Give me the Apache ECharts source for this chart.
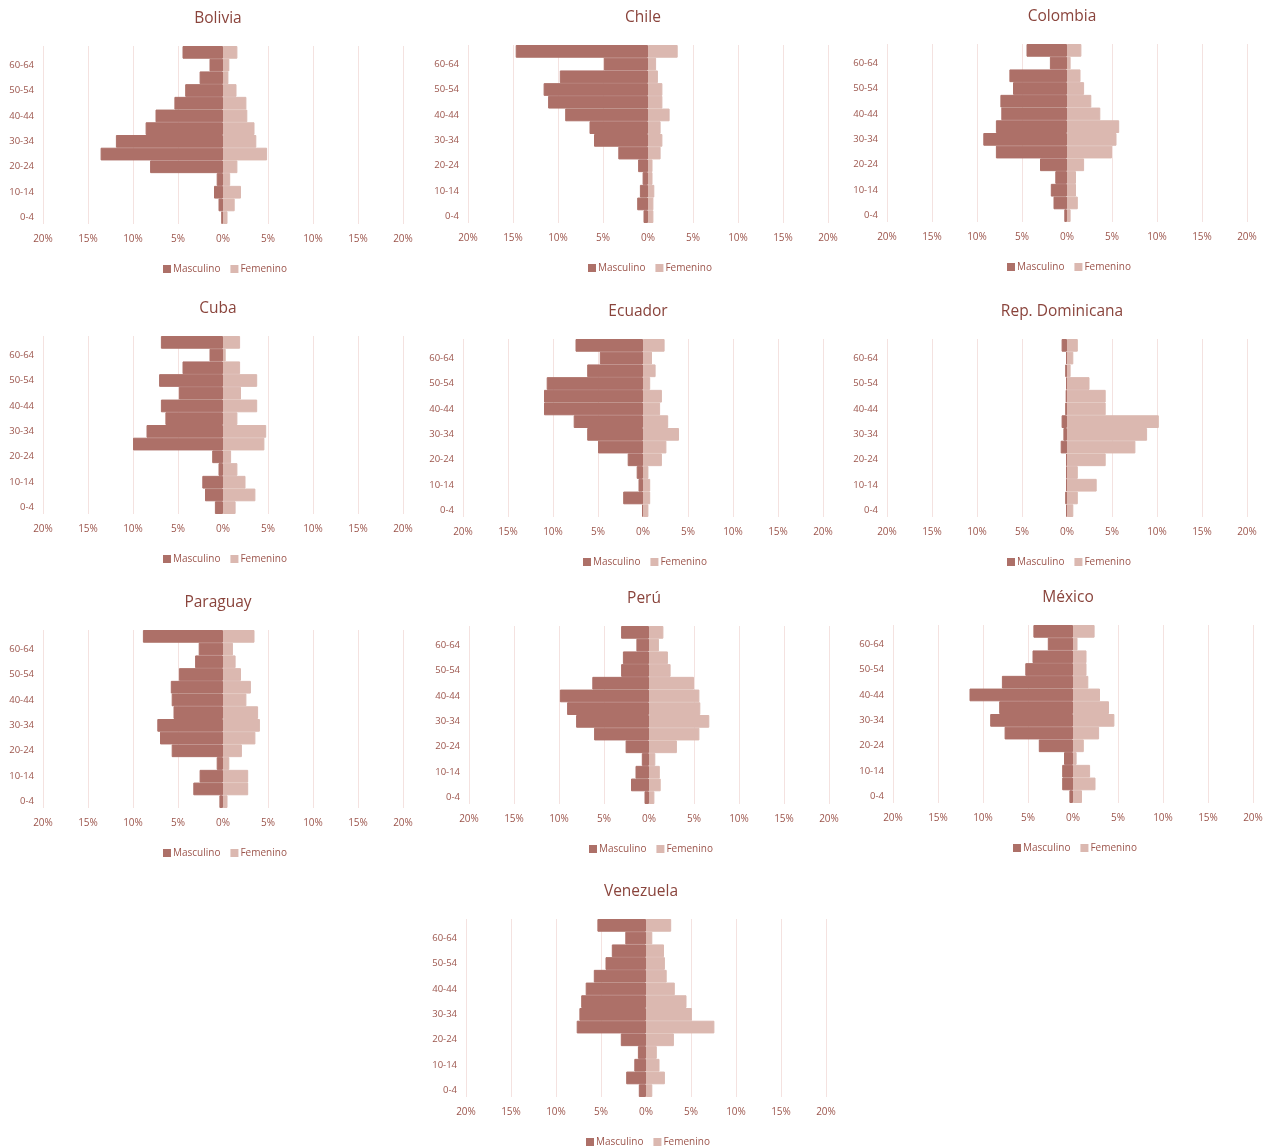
<!DOCTYPE html>
<html>
<head>
<meta charset="utf-8">
<script src="https://cdn.jsdelivr.net/npm/echarts@6/dist/echarts.min.js"></script>
<style>
  html, body { margin: 0; padding: 0; background: #fff; }
  #chart-container { width: 1272px; height: 1148px; }
</style>
</head>
<body>
<div id="chart-container"></div>
<script>
// grupos de edad (de abajo hacia arriba)
const edades = ['0-4', '5-9', '10-14', '15-19', '20-24', '25-29', '30-34', '35-39',
  '40-44', '45-49', '50-54', '55-59', '60-64', '65+'];

const paises = ['Bolivia', 'Chile', 'Colombia', 'Cuba', 'Ecuador', 'Rep. Dominicana',
  'Paraguay', 'Perú', 'México', 'Venezuela'];

// porcentajes por grupo de edad
const boliviaMasc = [0.2, 0.5, 1.0, 0.7, 8.1, 13.6, 11.9, 8.6, 7.5, 5.4, 4.2, 2.6, 1.5, 4.5];
const boliviaFem = [0.5, 1.3, 2.0, 0.8, 1.6, 4.9, 3.7, 3.5, 2.7, 2.6, 1.5, 0.6, 0.7, 1.6];
const chileMasc = [0.5, 1.2, 0.9, 0.6, 1.1, 3.3, 6.0, 6.5, 9.2, 11.1, 11.6, 9.8, 4.9, 14.7];
const chileFem = [0.6, 0.6, 0.7, 0.5, 0.5, 1.4, 1.6, 1.4, 2.4, 1.6, 1.6, 1.1, 0.9, 3.3];
const colombiaMasc = [0.3, 1.5, 1.8, 1.3, 3.0, 7.9, 9.3, 7.9, 7.3, 7.4, 6.0, 6.4, 1.9, 4.5];
const colombiaFem = [0.4, 1.2, 1.0, 1.0, 1.9, 5.0, 5.5, 5.8, 3.7, 2.7, 1.9, 1.5, 0.4, 1.6];
const cubaMasc = [0.9, 2.0, 2.3, 0.5, 1.2, 10.0, 8.5, 6.4, 6.9, 4.9, 7.1, 4.5, 1.5, 6.9];
const cubaFem = [1.4, 3.6, 2.5, 1.6, 0.9, 4.6, 4.8, 1.6, 3.8, 2.0, 3.8, 1.9, 0.3, 1.9];
const ecuadorMasc = [0.1, 2.2, 0.5, 0.7, 1.7, 5.0, 6.2, 7.7, 11.0, 11.0, 10.7, 6.2, 4.8, 7.5];
const ecuadorFem = [0.6, 0.8, 0.8, 0.6, 2.1, 2.6, 4.0, 2.8, 1.9, 2.1, 0.8, 1.4, 1.0, 2.4];
const repDomMasc = [0.1, 0.2, 0.1, 0.1, 0.1, 0.7, 0.4, 0.6, 0.2, 0.15, 0.1, 0.2, 0.1, 0.6];
const repDomFem = [0.7, 1.2, 3.3, 1.2, 4.3, 7.6, 8.9, 10.2, 4.3, 4.3, 2.5, 0.4, 0.7, 1.2];
const paraguayMasc = [0.4, 3.3, 2.6, 0.7, 5.7, 7.0, 7.3, 5.5, 5.7, 5.8, 4.9, 3.1, 2.7, 8.9];
const paraguayFem = [0.5, 2.8, 2.8, 0.7, 2.1, 3.6, 4.1, 3.9, 2.6, 3.1, 2.0, 1.4, 1.1, 3.5];
const peruMasc = [0.5, 2.0, 1.5, 0.8, 2.6, 6.1, 8.1, 9.1, 9.9, 6.3, 3.1, 2.9, 1.4, 3.1];
const peruFem = [0.6, 1.3, 1.2, 0.7, 3.1, 5.6, 6.7, 5.7, 5.6, 5.0, 2.4, 2.1, 1.1, 1.6];
const mexicoMasc = [0.4, 1.2, 1.2, 1.0, 3.8, 7.6, 9.2, 8.2, 11.5, 7.9, 5.3, 4.5, 2.8, 4.4];
const mexicoFem = [1.0, 2.5, 1.9, 0.4, 1.2, 2.9, 4.6, 4.0, 3.0, 1.7, 1.5, 1.5, 0.5, 2.4];
const venezuelaMasc = [0.8, 2.2, 1.3, 0.9, 2.8, 7.7, 7.4, 7.2, 6.7, 5.8, 4.5, 3.8, 2.3, 5.4];
const venezuelaFem = [0.7, 2.1, 1.5, 1.2, 3.1, 7.6, 5.1, 4.5, 3.2, 2.3, 2.1, 2.0, 0.7, 2.8];

const masculino = [boliviaMasc, chileMasc, colombiaMasc, cubaMasc, ecuadorMasc,
  repDomMasc, paraguayMasc, peruMasc, mexicoMasc, venezuelaMasc];
const femenino = [boliviaFem, chileFem, colombiaFem, cubaFem, ecuadorFem,
  repDomFem, paraguayFem, peruFem, mexicoFem, venezuelaFem];

// posición de cada panel: x del 0% y borde superior de las barras
const paneles = [
  { cero: 223, top: 46 }, { cero: 648, top: 45 }, { cero: 1067, top: 44 },
  { cero: 223, top: 336 }, { cero: 643, top: 339 }, { cero: 1067, top: 339 },
  { cero: 223, top: 630 }, { cero: 649, top: 626 }, { cero: 1073, top: 625 },
  { cero: 646, top: 919 }
];

const colorTexto = '#9c554c';
const colorMasc = '#ad7068';
const colorFem = '#dbb8b0';
const fuente = 'Open Sans';
const altoGrid = 178;
const mitad = 180;

const chart = echarts.init(document.getElementById('chart-container'));

const option = {
  animation: false,
  title: [],
  legend: [],
  grid: [],
  xAxis: [],
  yAxis: [],
  series: []
};

paneles.forEach((p, i) => {
  option.title.push({
    text: paises[i],
    left: p.cero - 10,
    top: p.top - 40,
    textAlign: 'center',
    textStyle: { fontFamily: fuente, fontSize: 15.5, fontWeight: 500, color: '#8a443c' }
  });
  option.legend.push({
    data: ['Masculino', 'Femenino'],
    left: p.cero - 65,
    top: p.top + altoGrid + 35,
    itemWidth: 6,
    itemHeight: 6,
    itemGap: 10,
    icon: 'rect',
    selectedMode: false,
    textStyle: { fontFamily: fuente, fontSize: 10, color: colorTexto, padding: [0, 0, 0, -2] }
  });
  option.grid.push({
    left: p.cero - mitad,
    top: p.top,
    width: mitad * 2,
    height: altoGrid,
    containLabel: false
  });
  option.xAxis.push({
    type: 'value',
    gridIndex: i,
    min: -20,
    max: 20,
    interval: 5,
    axisLine: { show: false },
    axisTick: { show: false },
    axisLabel: {
      margin: 10,
      fontFamily: fuente,
      fontSize: 10,
      color: colorTexto,
      formatter: v => Math.abs(v) + '%'
    },
    splitLine: { lineStyle: { color: '#f4e2e0', width: 1 } }
  });
  option.yAxis.push({
    type: 'category',
    gridIndex: i,
    data: edades,
    axisLine: { show: false, onZero: false },
    axisTick: { show: false },
    axisLabel: {
      interval: 1,
      margin: 9,
      fontFamily: fuente,
      fontSize: 9.5,
      color: colorTexto
    }
  });
  option.series.push({
    name: 'Masculino',
    type: 'bar',
    xAxisIndex: i,
    yAxisIndex: i,
    barCategoryGap: '0%',
    barGap: '-100%',
    itemStyle: { color: colorMasc, borderColor: colorMasc, borderWidth: 1 },
    data: masculino[i].map(v => -v)
  });
  option.series.push({
    name: 'Femenino',
    type: 'bar',
    xAxisIndex: i,
    yAxisIndex: i,
    barCategoryGap: '0%',
    barGap: '-100%',
    itemStyle: { color: colorFem, borderColor: colorFem, borderWidth: 1 },
    data: femenino[i]
  });
});

chart.setOption(option);
</script>
</body>
</html>
